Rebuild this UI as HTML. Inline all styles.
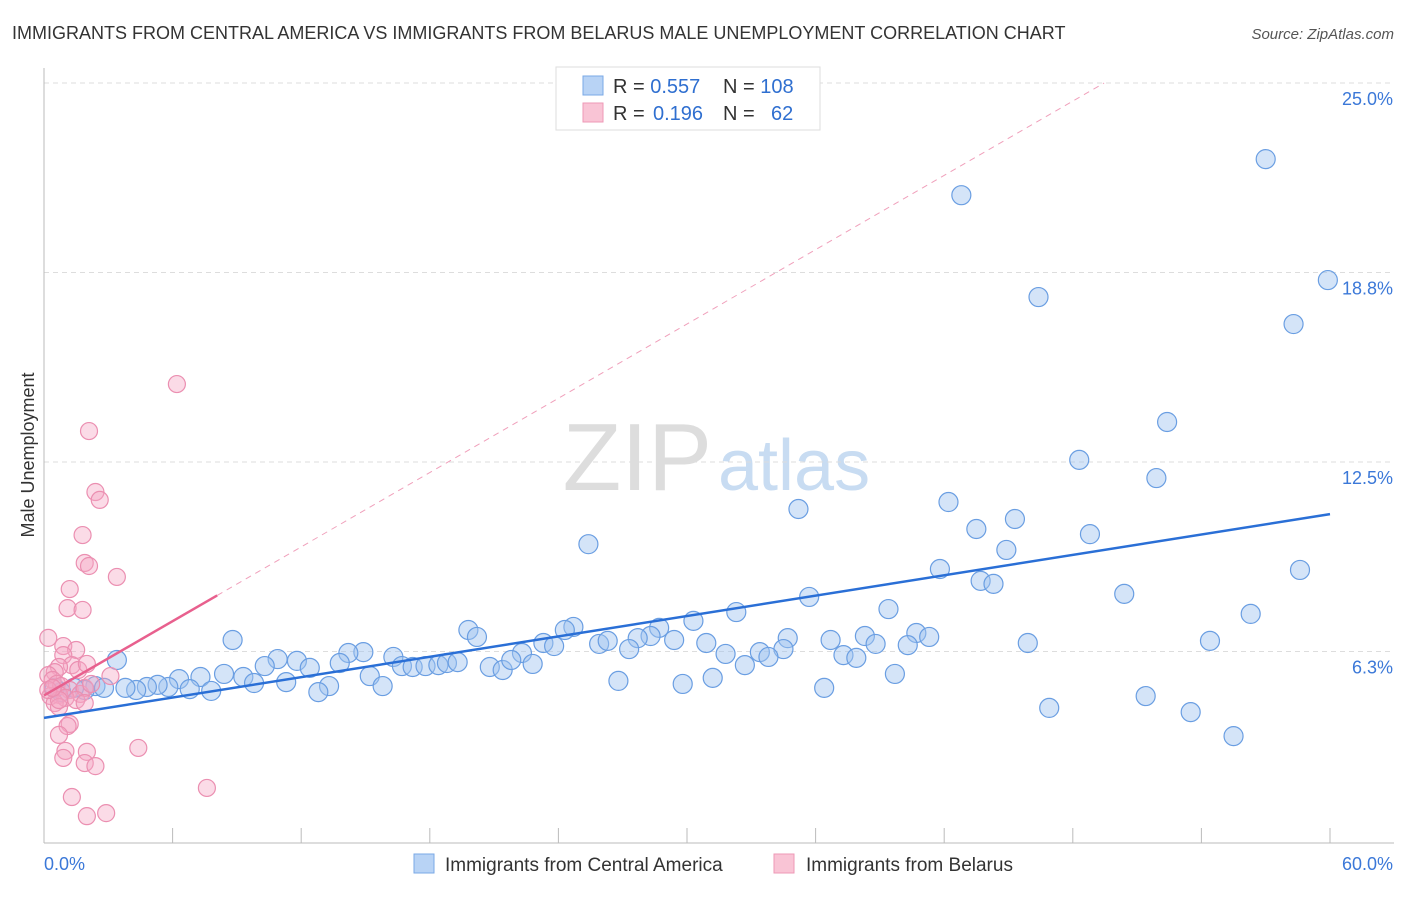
<!DOCTYPE html>
<html><head><meta charset="utf-8"><style>
body{margin:0;background:#fff;font-family:"Liberation Sans",sans-serif;}
svg text{font-family:"Liberation Sans",sans-serif;}
</style></head><body>
<svg id="chart" width="1406" height="892" xmlns="http://www.w3.org/2000/svg">
<text x="12" y="39" font-size="18" fill="#333">IMMIGRANTS FROM CENTRAL AMERICA VS IMMIGRANTS FROM BELARUS MALE UNEMPLOYMENT CORRELATION CHART</text>
<text x="1394" y="39" font-size="15" fill="#555" font-style="italic" text-anchor="end">Source: ZipAtlas.com</text>
<text x="712" y="490" font-size="96" fill="#ddd" text-anchor="end" font-family="Liberation Serif">ZIP</text>
<text x="718" y="490" font-size="72" fill="#c8dcf2">atlas</text>
<g id="grid"></g><g id="marks"></g>
<text transform="translate(34,455) rotate(-90)" font-size="18" fill="#333" text-anchor="middle">Male Unemployment</text>
<g>
<rect x="556" y="67" width="264" height="63" fill="#fff" stroke="#ddd"/>
<rect x="583" y="76" width="20" height="19" fill="#b8d3f5" stroke="#7aa8e6"/>
<rect x="583" y="103" width="20" height="19" fill="#f9c4d5" stroke="#ee98b6"/>
<text x="613" y="93" font-size="20" fill="#333">R = <tspan fill="#2f6fd0">0.557</tspan><tspan x="723">N = </tspan><tspan fill="#2f6fd0">108</tspan></text>
<text x="613" y="120" font-size="20" fill="#333">R = <tspan x="653" fill="#2f6fd0">0.196</tspan><tspan x="723">N = </tspan><tspan x="771" fill="#2f6fd0">62</tspan></text>
</g>
<g>
<rect x="414" y="854" width="20" height="19" fill="#b8d3f5" stroke="#7aa8e6"/>
<text x="445" y="871" font-size="19" fill="#333">Immigrants from Central America</text>
<rect x="774" y="854" width="20" height="19" fill="#f9c4d5" stroke="#ee98b6"/>
<text x="806" y="871" font-size="19" fill="#333">Immigrants from Belarus</text>
</g>
</svg>
<script>
const yTicks=[6.25,12.5,18.75,25];
const yTickLabels=["6.3%","12.5%","18.8%","25.0%"];
const xEnds=[0,60];
const xEndLabels=["0.0%","60.0%"];
const blueX=[57.0,42.8,59.9,46.4,58.3,52.4,48.3,51.9,35.2,42.2,45.3,43.5,48.8,25.4,44.9,41.8,58.6,43.7,44.3,35.7,50.4,32.3,39.4,56.3,30.3,19.8,20.2,24.7,24.3,28.7,8.8,40.7,41.3,38.3,34.7,36.7,28.3,27.7,23.3,23.8,25.9,26.3,30.9,29.4,45.9,54.4,38.8,40.3,27.3,14.9,14.2,16.3,22.3,33.4,34.5,31.8,37.3,37.9,33.8,13.8,10.9,11.8,10.3,12.4,16.7,17.2,17.8,18.4,18.8,19.3,20.8,21.4,21.8,22.8,32.7,3.4,8.4,9.3,6.3,7.3,9.8,11.3,15.2,15.8,39.7,26.8,31.2,29.8,13.3,12.8,36.4,7.8,6.8,5.8,5.3,4.8,4.3,3.8,51.4,46.9,53.5,55.5,2.4,1.9,1.4,0.8,0.5,2.8];
const blueY=[22.49,21.3,18.5,17.94,17.05,13.82,12.57,11.97,10.95,11.18,10.62,10.29,10.12,9.79,9.6,8.97,8.94,8.58,8.48,8.05,8.15,7.55,7.65,7.49,7.26,6.96,6.73,7.06,6.96,7.03,6.63,6.86,6.73,6.76,6.69,6.63,6.76,6.69,6.53,6.43,6.5,6.6,6.53,6.63,6.53,6.6,6.5,6.46,6.33,6.23,6.2,6.07,6.2,6.23,6.33,6.17,6.13,6.04,6.07,5.87,6.0,5.94,5.77,5.71,5.77,5.74,5.77,5.8,5.87,5.9,5.74,5.64,5.97,5.84,5.8,5.97,5.51,5.41,5.34,5.41,5.21,5.24,5.44,5.11,5.51,5.28,5.38,5.18,5.11,4.91,5.05,4.95,5.01,5.08,5.15,5.08,4.98,5.05,4.78,4.39,4.25,3.46,5.11,4.98,5.05,4.91,5.05,5.05];
const pinkX=[6.2,2.1,2.4,2.6,1.8,1.9,2.1,3.4,1.2,1.1,1.8,0.2,0.9,1.5,0.9,1.3,1.6,2.0,0.7,0.5,0.2,0.4,0.6,0.8,1.2,1.7,1.9,0.7,0.3,1.0,1.5,1.9,0.5,0.7,1.2,1.1,0.7,4.4,2.0,1.0,0.9,1.9,2.4,7.6,1.3,2.9,2.0,3.1,2.2,0.7,0.2,0.4];
const pinkY=[15.07,13.52,11.51,11.25,10.09,9.17,9.07,8.71,8.31,7.68,7.62,6.7,6.43,6.3,6.13,5.8,5.64,5.84,5.74,5.57,5.47,5.31,5.18,5.11,4.98,4.85,5.05,4.82,4.78,4.72,4.65,4.55,4.55,4.42,3.86,3.79,3.5,3.07,2.94,2.97,2.74,2.57,2.47,1.75,1.45,0.92,0.82,5.44,5.18,4.65,4.98,5.05];
const blueTrend=[4.06,10.78];
const pinkTrend=[4.8,8.1];
const X0=44,X1=1330,Y0=841,PPY=30.32;
function sx(v){return X0+(v-xEnds[0])/(xEnds[1]-xEnds[0])*(X1-X0);}
function sy(v){return Y0-v*PPY;}
const NS="http://www.w3.org/2000/svg";
function mk(p,t,a){const e=document.createElementNS(NS,t);for(const k in a)e.setAttribute(k,a[k]);p.appendChild(e);return e;}
const grid=document.getElementById('grid'),marks=document.getElementById('marks');
yTicks.forEach((t,i)=>{
  const l=mk(grid,'line',{x1:44,x2:1394,y1:sy(t),y2:sy(t),stroke:'#ddd','stroke-dasharray':'5,4'});
  
  
  const tx=mk(grid,'text',{x:1393,y:sy(t)+22,'font-size':18,fill:'#3b78d8','text-anchor':'end'});
  tx.textContent=yTickLabels[i];
  
  
});
const ax=mk(grid,'line',{x1:44,x2:44,y1:68,y2:843,stroke:'#bbb'});


const bx=mk(grid,'line',{x1:44,x2:1394,y1:843,y2:843,stroke:'#bbb'});


for(let i=1;i<=10;i++){const v=i*6;const t=mk(grid,'line',{x1:sx(v),x2:sx(v),y1:828,y2:843,stroke:'#bbb'});

}
xEndLabels.forEach((s,i)=>{const t=mk(grid,'text',{x:i?1393:44,y:870,'font-size':18,fill:'#3b78d8','text-anchor':i?'end':'start'});t.textContent=s;

});
blueX.forEach((x,i)=>{const c=mk(marks,'circle',{cx:sx(x),cy:sy(blueY[i]),r:9.5,fill:'rgba(160,195,240,0.45)',stroke:'#6a9ee2','stroke-width':1.2});

});
pinkX.forEach((x,i)=>{const c=mk(marks,'circle',{cx:sx(x),cy:sy(pinkY[i]),r:8.5,fill:'rgba(245,165,195,0.4)',stroke:'#eb8fb1','stroke-width':1.2});

});
const bt=mk(marks,'line',{x1:sx(0),y1:sy(blueTrend[0]),x2:sx(60),y2:sy(blueTrend[1]),stroke:'#2a6fd6','stroke-width':2.5});


const slope=(pinkTrend[1]-pinkTrend[0])/8.08;
const pd=mk(marks,'line',{x1:sx(8.08),y1:sy(pinkTrend[1]),x2:sx((25-pinkTrend[0])/slope),y2:sy(25),stroke:'#f0a0bb','stroke-width':1,'stroke-dasharray':'6,5'});


const pt=mk(marks,'line',{x1:sx(0),y1:sy(pinkTrend[0]),x2:sx(8.08),y2:sy(pinkTrend[1]),stroke:'#e8608e','stroke-width':2.5});


</script>
</body></html>
